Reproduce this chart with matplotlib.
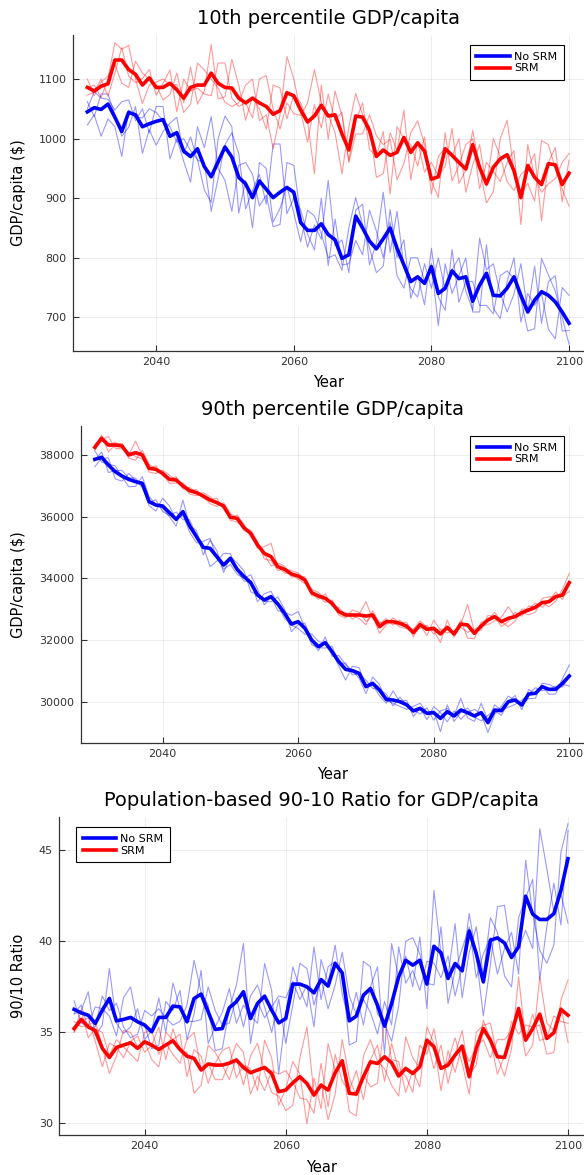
import matplotlib
matplotlib.use("Agg")
import matplotlib.pyplot as plt

years = list(range(2030, 2101))

# 10th percentile GDP/capita ($)
p10_nosrm = [1045, 1052, 1049, 1058, 1036, 1012, 1044, 1040, 1020, 1025,
             1029, 1032, 1004, 1010, 979, 970, 983, 953, 936, 961,
             986, 969, 935, 924, 901, 929, 915, 901, 910, 918,
             910, 859, 846, 846, 857, 839, 830, 799, 805, 870,
             850, 828, 815, 832, 850, 816, 788, 760, 768, 757,
             785, 740, 749, 778, 765, 768, 727, 754, 774, 737,
             736, 749, 768, 737, 709, 729, 743, 737, 726, 709,
             690]
p10_srm = [1086, 1080, 1088, 1092, 1132, 1132, 1116, 1108, 1090, 1102,
           1086, 1086, 1093, 1082, 1068, 1086, 1090, 1090, 1110, 1093,
           1086, 1085, 1068, 1060, 1068, 1060, 1054, 1041, 1047, 1077,
           1072, 1048, 1028, 1038, 1056, 1038, 1040, 1008, 981, 1038,
           1036, 1014, 970, 981, 972, 977, 1002, 977, 993, 979,
           932, 936, 983, 972, 960, 949, 990, 952, 924, 952,
           966, 973, 946, 901, 955, 935, 923, 958, 956, 923,
           942]
p10_nosrm_runs = [
    [1062, 1037, 1075, 1075, 1040, 1004, 1019, 1054, 975, 1015,
     989, 1012, 1026, 1036, 975, 1003, 964, 960, 878, 933,
     990, 1010, 975, 882, 913, 940, 890, 991, 991, 874,
     900, 880, 840, 813, 900, 787, 865, 788, 790, 829,
     805, 880, 845, 800, 860, 770, 749, 800, 800, 760,
     790, 686, 790, 740, 770, 800, 709, 709, 822, 715,
     698, 760, 800, 692, 740, 720, 740, 680, 664, 750,
     737],
    [1050, 1079, 1068, 1066, 1048, 1062, 1065, 1030, 1050, 1010,
     1054, 1054, 966, 1000, 962, 927, 1020, 985, 1037, 950,
     930, 878, 955, 960, 940, 887, 905, 852, 856, 960,
     955, 870, 818, 855, 831, 930, 820, 830, 775, 880,
     890, 788, 825, 910, 809, 878, 785, 748, 734, 790,
     749, 800, 745, 780, 800, 744, 712, 833, 780, 790,
     740, 709, 739, 790, 710, 786, 690, 760, 770, 677,
     678],
    [1023, 1040, 1004, 1033, 1020, 970, 1048, 1036, 1035, 1050,
     1044, 1030, 1020, 994, 1000, 980, 965, 914, 893, 1000,
     1038, 1020, 875, 930, 850, 960, 950, 860, 883, 920,
     875, 827, 880, 870, 840, 800, 805, 779, 850, 901,
     855, 816, 775, 786, 881, 800, 830, 732, 770, 721,
     816, 734, 712, 814, 725, 760, 760, 720, 720, 706,
     770, 778, 765, 730, 677, 681, 799, 771, 744, 700,
     655],
]
p10_srm_runs = [
    [1100, 1072, 1095, 1105, 1125, 1093, 1086, 1130, 1110, 1100,
     1090, 1065, 1074, 1110, 1060, 1120, 1058, 1080, 1158, 1067,
     1070, 1133, 1090, 1031, 1070, 1050, 1016, 1090, 1085, 1033,
     1074, 1060, 1030, 941, 1090, 999, 1080, 1038, 960, 1008,
     1008, 1040, 1005, 990, 999, 931, 958, 1010, 1030, 990,
     929, 901, 1010, 929, 955, 990, 1000, 916, 960, 945,
     928, 960, 980, 856, 990, 935, 910, 924, 933, 960,
     975],
    [1085, 1090, 1069, 1100, 1161, 1150, 1157, 1100, 1059, 1090,
     1095, 1100, 1090, 1091, 1044, 1058, 1127, 1115, 1100, 1085,
     1061, 1054, 1060, 1090, 1100, 1030, 1040, 983, 1040, 1138,
     1100, 1045, 994, 1057, 1018, 1075, 1030, 1045, 963, 1030,
     1060, 982, 970, 1012, 907, 1020, 1000, 990, 954, 1003,
     907, 970, 985, 970, 1000, 910, 956, 990, 920, 1000,
     970, 928, 913, 940, 950, 975, 862, 960, 985, 894,
     964],
    [1073, 1078, 1100, 1071, 1110, 1153, 1105, 1094, 1101, 1116,
     1073, 1093, 1115, 1045, 1100, 1080, 1085, 1075, 1072, 1127,
     1127, 1068, 1054, 1060, 1035, 1100, 1106, 1050, 1016, 1060,
     1042, 1039, 1060, 1116, 1060, 1040, 1010, 941, 1020, 1076,
     1040, 1020, 935, 941, 1010, 980, 1048, 931, 995, 944,
     960, 937, 954, 1017, 925, 947, 1014, 950, 892, 911,
     1000, 1031, 945, 907, 925, 895, 997, 990, 950, 915,
     887],
]

# 90th percentile GDP/capita ($)
p90_nosrm = [37859, 37924, 37676, 37460, 37319, 37211, 37135, 37081, 36487, 36378,
             36346, 36130, 35914, 36162, 35697, 35351, 35005, 34973, 34703, 34432,
             34649, 34292, 34060, 33860, 33460, 33298, 33406, 33168, 32865, 32519,
             32595, 32379, 32000, 31784, 31914, 31622, 31298, 31049, 31006, 30919,
             30487, 30595, 30379, 30076, 30054, 30000, 29900, 29700, 29784, 29622,
             29644, 29460, 29676, 29536, 29730, 29644, 29536, 29644, 29320, 29730,
             29709, 30000, 30054, 29892, 30249, 30271, 30487, 30400, 30400, 30595,
             30833]
p90_srm = [38249, 38541, 38324, 38324, 38292, 38000, 38076, 38000, 37568, 37535,
           37405, 37211, 37189, 36995, 36843, 36778, 36670, 36541, 36454, 36346,
           35978, 35946, 35640, 35460, 35081, 34811, 34703, 34378, 34292, 34141,
           34076, 33946, 33535, 33427, 33352, 33189, 32919, 32811, 32811, 32811,
           32778, 32811, 32432, 32595, 32595, 32541, 32450, 32240, 32500, 32346,
           32379, 32195, 32411, 32195, 32519, 32487, 32216, 32454, 32649, 32757,
           32595, 32703, 32757, 32887, 32973, 33060, 33211, 33243, 33406, 33460,
           33860]
p90_nosrm_runs = [
    [38140, 37770, 37700, 37650, 37300, 36970, 36980, 37300, 36650, 36400,
     36270, 36000, 35690, 36540, 35700, 35550, 34760, 35240, 34900, 34190,
     34700, 34500, 34250, 33560, 33480, 33250, 33240, 33400, 33000, 32270,
     32500, 32550, 31950, 31650, 32100, 31470, 31500, 31200, 31000, 30760,
     30260, 30800, 30550, 30030, 29950, 29850, 29750, 29850, 29950, 29650,
     29700, 29027, 29900, 29360, 29650, 29800, 29500, 29380, 29560, 29700,
     29560, 30000, 30200, 29730, 30400, 30250, 30500, 30240, 30250, 30750,
     31190],
    [37820, 38100, 37430, 37500, 37500, 37260, 37250, 37000, 36360, 36180,
     36600, 36350, 35900, 36050, 35490, 35150, 35200, 35300, 34650, 34300,
     34450, 34130, 34000, 34120, 33650, 33140, 33400, 32950, 32900, 32800,
     32919, 32400, 31850, 31750, 31740, 31800, 31250, 31250, 30870, 30900,
     30700, 30430, 30400, 30250, 29860, 30150, 29900, 29740, 29600, 29800,
     29400, 29700, 29780, 29550, 30108, 29480, 29360, 29950, 29400, 29900,
     29720, 29820, 29910, 30050, 30250, 30450, 30360, 30400, 30500, 30480,
     30800],
    [37620, 37900, 37900, 37230, 37150, 37400, 37180, 36940, 36450, 36550,
     36170, 36040, 36150, 35900, 35900, 35350, 35050, 34380, 34560, 34811,
     34800, 34250, 33910, 33900, 33243, 33500, 33580, 33150, 32700, 32490,
     32370, 32190, 32200, 31950, 31900, 31600, 31150, 30700, 31150, 31100,
     30500, 30550, 30190, 29950, 30350, 30000, 30050, 29514, 29800, 29420,
     29838, 29650, 29350, 29700, 29430, 29650, 29750, 29600, 29000, 29590,
     29850, 30180, 30050, 29900, 30100, 30110, 30600, 30560, 30450, 30560,
     30510],
]
p90_srm_runs = [
    [38350, 38470, 38280, 38420, 38300, 37900, 37830, 38150, 37700, 37560,
     37400, 37080, 37090, 37100, 36850, 36880, 36580, 36550, 36600, 36240,
     35950, 36050, 35750, 35350, 35060, 34780, 34400, 34500, 34400, 34040,
     34080, 34050, 33520, 33320, 33500, 33090, 33050, 32820, 32780, 32700,
     32490, 32950, 32560, 32600, 32580, 32420, 32370, 32350, 32620, 32420,
     32300, 31914, 32650, 32090, 32500, 33150, 32260, 32330, 32800, 32750,
     32440, 32600, 32900, 32770, 33100, 33080, 33220, 33080, 33260, 33650,
     34162],
    [38240, 38649, 38100, 38330, 38380, 38000, 38450, 37980, 37450, 37400,
     37500, 37350, 37180, 36990, 36730, 36680, 36780, 36650, 36430, 36350,
     35880, 35830, 35620, 35560, 35200, 34630, 34580, 34250, 34310, 34250,
     34180, 33960, 33440, 33420, 33220, 33300, 32900, 32900, 32680, 32830,
     33244, 32690, 32520, 32700, 32480, 32650, 32400, 32260, 32390, 32480,
     32190, 32350, 32350, 32200, 32650, 32060, 32040, 32580, 32650, 32900,
     32600, 32430, 32610, 33000, 33000, 33200, 33060, 33250, 33560, 33310,
     33850],
    [38160, 38500, 38595, 38220, 38200, 38100, 37950, 37870, 37550, 37650,
     37320, 37200, 37300, 36900, 36950, 36770, 36650, 36420, 36330, 36450,
     36100, 35960, 35550, 35470, 34980, 35027, 35135, 34380, 34170, 34130,
     33970, 33830, 33650, 33540, 33340, 33180, 32810, 32710, 32973, 32900,
     32600, 32790, 32216, 32480, 32720, 32550, 32580, 32110, 32490, 32140,
     32649, 32320, 32230, 32300, 32410, 32250, 32350, 32450, 32500, 32620,
     32750, 33081, 32760, 32890, 32820, 32900, 33350, 33400, 33400, 33420,
     33570],
]

# population-based 90/10 ratio
ratio_nosrm = [36.26, 36.07, 35.94, 35.49, 36.22, 36.86, 35.63, 35.71, 35.82, 35.58,
               35.40, 35.03, 35.82, 35.82, 36.44, 36.40, 35.58, 36.86, 37.10, 36.13,
               35.16, 35.21, 36.35, 36.68, 37.23, 35.76, 36.59, 36.99, 36.22, 35.52,
               35.76, 37.65, 37.65, 37.50, 37.17, 37.90, 37.54, 38.78, 38.27, 35.63,
               35.89, 37.04, 37.41, 36.49, 35.34, 36.59, 38.05, 38.96, 38.69, 38.96,
               37.65, 39.73, 39.37, 37.96, 38.78, 38.38, 40.57, 39.33, 37.77, 40.06,
               40.19, 39.91, 39.11, 39.70, 42.48, 41.49, 41.20, 41.20, 41.52, 42.80,
               44.54]
ratio_srm = [35.21, 35.71, 35.30, 35.09, 34.12, 33.62, 34.17, 34.30, 34.43, 34.12,
             34.48, 34.30, 34.06, 34.30, 34.54, 34.06, 33.69, 33.57, 32.93, 33.26,
             33.20, 33.20, 33.31, 33.48, 33.07, 32.78, 32.93, 33.07, 32.74, 31.74,
             31.83, 32.23, 32.56, 32.19, 31.55, 32.10, 31.83, 32.78, 33.44, 31.65,
             31.61, 32.56, 33.38, 33.29, 33.66, 33.33, 32.60, 33.02, 32.74, 33.11,
             34.57, 34.21, 33.02, 33.20, 33.75, 34.24, 32.56, 34.12, 35.21, 34.57,
             33.66, 33.62, 34.94, 36.31, 34.57, 35.21, 36.00, 34.66, 34.98, 36.26,
             35.94]
ratio_nosrm_runs = [
    [36.73, 35.5, 35.4, 36.4, 36.3, 35.9, 34.8, 36.9, 37.5, 35.5,
     35.4, 34.1, 34.3, 36.7, 36.2, 37.3, 34.6, 36.0, 38.41, 34.39,
     35.3, 36.1, 37.4, 35.5, 36.5, 35.9, 35.5, 38.78, 37.3, 32.74,
     36.0, 38.6, 37.4, 36.4, 39.7, 36.8, 38.6, 38.9, 38.3, 34.3,
     34.5, 38.9, 38.6, 36.0, 35.5, 34.5, 36.45, 40.0, 40.2, 39.3,
     37.7, 37.6, 40.8, 36.59, 38.4, 39.6, 40.8, 38.0, 39.3, 40.2,
     38.2, 39.6, 40.5, 38.2, 44.45, 41.5, 39.5, 38.8, 39.8, 44.9,
     46.46],
    [36.04, 36.5, 35.2, 35.3, 37.0, 36.2, 36.6, 35.3, 34.7, 34.9,
     36.2, 35.9, 36.3, 35.8, 35.4, 35.6, 36.5, 38.96, 37.2, 36.5,
     34.0, 34.1, 36.3, 37.6, 39.88, 34.39, 36.7, 35.8, 36.4, 37.0,
     36.9, 37.8, 36.8, 37.6, 35.3, 39.0, 37.7, 39.79, 37.1, 35.6,
     37.2, 35.4, 37.5, 38.6, 33.8, 39.88, 38.0, 39.2, 37.5, 40.24,
     36.3, 42.8, 39.3, 38.1, 40.97, 36.9, 39.4, 40.8, 38.1, 41.3,
     40.5, 38.1, 37.5, 41.3, 42.4, 43.4, 37.9, 40.8, 43.2, 40.9,
     46.1],
    [36.0, 36.2, 37.23, 34.8, 35.4, 38.51, 35.5, 34.94, 35.3, 36.3,
     34.6, 35.1, 36.9, 35.0, 37.72, 36.3, 35.6, 35.6, 35.7, 37.5,
     36.2, 35.4, 35.5, 36.9, 35.3, 37.0, 37.6, 36.4, 35.0, 36.83,
     34.4, 36.5, 38.8, 38.5, 36.5, 37.9, 36.3, 37.6, 39.4, 37.0,
     36.0, 36.8, 36.1, 34.9, 36.7, 35.4, 39.7, 37.7, 38.4, 37.3,
     38.9, 38.8, 38.0, 39.2, 37.0, 38.6, 41.53, 39.2, 35.9, 38.7,
     41.9, 41.98, 39.3, 39.6, 40.6, 39.6, 46.19, 44.0, 41.6, 42.6,
     41.0],
]
ratio_srm_runs = [
    [35.6, 35.3, 35.4, 35.6, 34.2, 32.74, 33.7, 35.1, 35.0, 34.2,
     34.5, 33.5, 33.1, 35.0, 34.6, 34.9, 32.56, 34.05, 33.7, 32.2,
     33.3, 34.0, 34.2, 32.5, 33.2, 33.0, 31.8, 34.57, 33.6, 31.0,
     31.9, 33.4, 32.7, 29.97, 32.5, 30.8, 34.39, 32.9, 33.4, 30.65,
     30.4, 33.7, 34.6, 33.4, 33.0, 32.1, 31.5, 34.76, 33.6, 33.0,
     34.6, 33.0, 34.3, 32.2, 33.8, 35.1, 32.7, 33.2, 35.67, 34.6,
     32.7, 33.7, 35.6, 34.9, 35.4, 35.3, 35.4, 33.8, 33.9, 36.77,
     37.87],
    [35.03, 36.22, 34.7, 35.2, 35.0, 33.7, 34.6, 34.2, 33.8, 33.4,
     35.0, 35.1, 33.8, 34.4, 33.8, 33.3, 34.6, 35.0, 33.0, 33.3,
     32.4, 32.4, 33.3, 34.39, 33.9, 31.6, 32.6, 31.8, 32.9, 32.7,
     32.9, 32.3, 31.4, 31.3, 30.55, 33.3, 30.9, 33.8, 32.3, 31.8,
     32.9, 31.3, 33.5, 34.3, 32.3, 34.4, 32.9, 32.6, 31.7, 34.3,
     33.8, 35.2, 33.0, 33.4, 34.7, 33.3, 31.6, 35.0, 35.4, 35.5,
     33.7, 32.6, 34.1, 38.05, 34.6, 36.0, 34.55, 34.7, 35.9, 35.6,
     35.5],
    [35.0, 35.6, 35.8, 34.5, 33.11, 34.4, 34.2, 33.6, 34.5, 34.8,
     33.9, 34.3, 35.3, 33.5, 35.2, 34.0, 33.9, 31.65, 32.1, 34.3,
     33.9, 33.2, 32.4, 33.6, 32.1, 33.7, 34.4, 32.8, 31.7, 31.5,
     30.7, 31.0, 33.6, 35.3, 31.6, 32.2, 30.2, 31.6, 34.6, 32.5,
     31.5, 32.7, 32.0, 32.2, 35.67, 33.5, 33.4, 31.7, 32.9, 32.0,
     35.3, 34.4, 31.8, 34.0, 32.8, 34.3, 33.4, 34.2, 34.6, 33.6,
     34.6, 34.6, 35.1, 36.0, 33.7, 34.3, 38.05, 35.5, 35.1, 36.4,
     34.45],
]

BLUE = "#0000ff"
RED = "#ff0000"
W, H = 584, 1175

fig = plt.figure(figsize=(W / 100, H / 100), dpi=100)


def px_rect(left, top, right, bottom):
    return [left / W, 1 - bottom / H, (right - left) / W, (bottom - top) / H]


def panel(rect, runs_a, mean_a, runs_b, mean_b, title, ylabel, ylim, yticks,
          leg_loc, leg_anchor, ylab_x):
    ax = fig.add_axes(rect)
    # individual runs underneath, ensemble mean on top
    for run in runs_a:
        ax.plot(years, run, color=BLUE, lw=0.8, alpha=0.4)
    for run in runs_b:
        ax.plot(years, run, color=RED, lw=0.8, alpha=0.4)
    ax.plot(years, mean_a, color=BLUE, lw=2.6, label="No SRM")
    ax.plot(years, mean_b, color=RED, lw=2.6, label="SRM")

    ax.set_xlim(2027.9, 2102.1)
    ax.set_ylim(*ylim)
    ax.set_xticks([2040, 2060, 2080, 2100])
    ax.set_yticks(yticks)
    ax.grid(True, color="black", alpha=0.1, lw=0.5)
    for side in ["top", "right"]:
        ax.spines[side].set_visible(False)
    for side in ["left", "bottom"]:
        ax.spines[side].set_color("#333333")
        ax.spines[side].set_linewidth(0.9)
    ax.tick_params(direction="in", length=4, width=0.8, labelsize=8,
                   colors="#333333", pad=4.5)

    ax.set_title(title, fontsize=14, pad=8)
    ax.set_xlabel("Year", fontsize=10.5)
    ax.set_ylabel(ylabel, fontsize=10.5)
    ax.xaxis.set_label_coords(0.5, -0.078)
    ax.yaxis.set_label_coords(ylab_x, 0.5)

    leg = ax.legend(loc=leg_loc, bbox_to_anchor=leg_anchor, borderaxespad=0,
                    fontsize=8, handlelength=3.0, handletextpad=0.4,
                    labelspacing=0.15, borderpad=0.6, fancybox=False,
                    framealpha=1, edgecolor="black")
    leg.get_frame().set_linewidth(0.8)
    return ax


panel(px_rect(72.9, 35, 583.5, 350.7), p10_nosrm_runs, p10_nosrm,
      p10_srm_runs, p10_srm, "10th percentile GDP/capita", "GDP/capita ($)",
      (644, 1174), [700, 800, 900, 1000, 1100],
      "upper right", (0.9615, 0.968), -0.092)

panel(px_rect(80.6, 426, 583.5, 742.7), p90_nosrm_runs, p90_nosrm,
      p90_srm_runs, p90_srm, "90th percentile GDP/capita", "GDP/capita ($)",
      (28670, 38940), [30000, 32000, 34000, 36000, 38000],
      "upper right", (0.9617, 0.968), -0.108)

panel(px_rect(59.3, 817, 582.8, 1135), ratio_nosrm_runs, ratio_nosrm,
      ratio_srm_runs, ratio_srm, "Population-based 90-10 Ratio for GDP/capita",
      "90/10 Ratio", (29.36, 46.83), [30, 35, 40, 45],
      "upper left", (0.032, 0.9676), -0.064)

fig.savefig("out.png", dpi=100)
